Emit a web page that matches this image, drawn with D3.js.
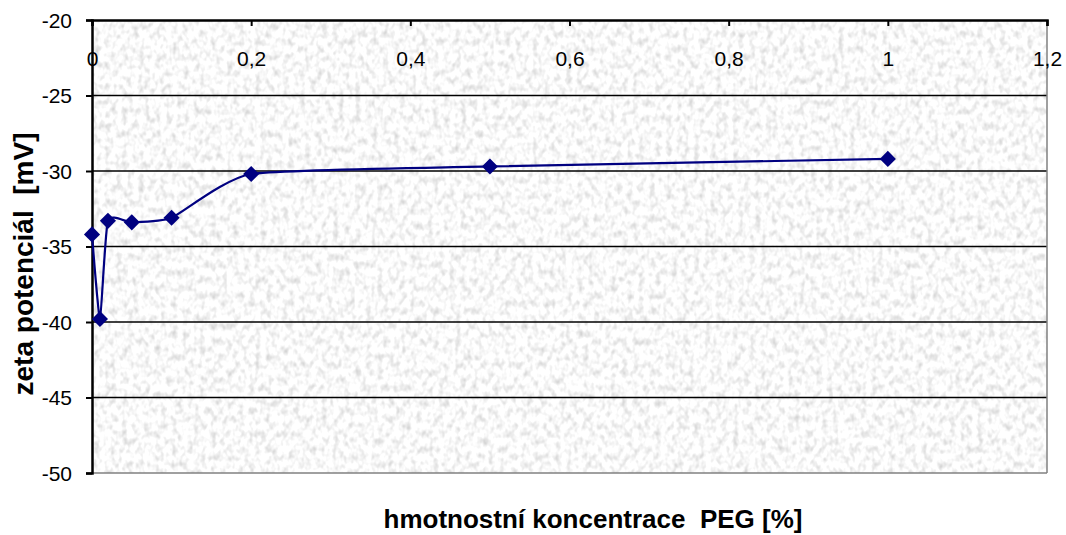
<!DOCTYPE html>
<html>
<head>
<meta charset="utf-8">
<script src="https://cdn.jsdelivr.net/npm/d3@7"></script>
<style>
  body { margin: 0; background: #fff; }
  svg text { font-family: "Liberation Sans", Arial, sans-serif; fill: #000; }
</style>
</head>
<body>
<div id="chart"></div>
<script>
// data
let concPEG = [0, 0.01, 0.02, 0.05, 0.1, 0.2, 0.5, 1];
let zeta = [-34.2, -39.8, -33.3, -33.4, -33.1, -30.2, -29.7, -29.2];
let xTicks = [0, 0.2, 0.4, 0.6, 0.8, 1, 1.2];
let yTicks = [-20, -25, -30, -35, -40, -45, -50];

let width = 1066, height = 535;
let plotL = 92, plotR = 1047, plotT = 20, plotB = 473;
let navy = '#000080';

let svg = d3.select('#chart').append('svg')
    .attr('width', width)
    .attr('height', height);

// granite-like background texture
let defs = svg.append('defs');
let filt = defs.append('filter').attr('id', 'granite')
    .attr('x', 0).attr('y', 0).attr('width', '100%').attr('height', '100%')
    .attr('color-interpolation-filters', 'sRGB');
filt.append('feTurbulence')
    .attr('type', 'fractalNoise')
    .attr('baseFrequency', '0.18 0.13')
    .attr('numOctaves', 2)
    .attr('seed', 11)
    .attr('result', 'noise');
filt.append('feColorMatrix')
    .attr('in', 'noise')
    .attr('type', 'matrix')
    .attr('values', '0.36 0 0 0 0.8  0.36 0 0 0 0.8  0.36 0 0 0 0.8  0 0 0 0 1');

let x = d3.scaleLinear().domain([0, 1.2]).range([plotL, plotR]);
let y = d3.scaleLinear().domain([-50, -20]).range([plotB, plotT]);

svg.append('rect')
    .attr('x', plotL).attr('y', plotT)
    .attr('width', plotR - plotL).attr('height', plotB - plotT)
    .attr('fill', '#e8e8e8')
    .attr('filter', 'url(#granite)');

// gridlines
svg.append('g').selectAll('line')
    .data(yTicks.filter(d => d > -50 && d < -20))
    .enter().append('line')
    .attr('x1', plotL).attr('x2', plotR)
    .attr('y1', d => y(d)).attr('y2', d => y(d))
    .attr('stroke', '#000').attr('stroke-width', 1.6);

// right + bottom frame (gray)
svg.append('line')
    .attr('x1', plotR).attr('x2', plotR).attr('y1', plotT).attr('y2', plotB)
    .attr('stroke', '#808080').attr('stroke-width', 1.5);
svg.append('line')
    .attr('x1', plotL).attr('x2', plotR).attr('y1', plotB).attr('y2', plotB)
    .attr('stroke', '#808080').attr('stroke-width', 1.5);

// y axis
let yAxis = d3.axisLeft(y).tickValues(yTicks).tickSize(6).tickPadding(14)
    .tickFormat(d => d3.format('d')(d).replace('−', '-'));
let gy = svg.append('g').attr('transform', 'translate(' + plotL + ',0)').call(yAxis);
gy.select('.domain').attr('stroke', '#000').attr('stroke-width', 2.5);
gy.selectAll('.tick line').attr('stroke', '#000').attr('stroke-width', 2);
gy.selectAll('.tick text').attr('font-size', 21).attr('dy', '0.35em');

// x axis on top, ticks pointing into the plot
let xAxis = d3.axisTop(x).tickValues(xTicks).tickSize(-6)
    .tickFormat(d => String(d).replace('.', ','));
let gx = svg.append('g').attr('transform', 'translate(0,' + plotT + ')').call(xAxis);
gx.select('.domain').attr('stroke', '#000').attr('stroke-width', 2.5);
gx.selectAll('.tick line').attr('stroke', '#000').attr('stroke-width', 2);
gx.selectAll('.tick text')
    .attr('font-size', 21)
    .attr('y', 46)
    .attr('dy', '0')
    .attr('text-anchor', 'middle');

// the series
let pts = concPEG.map((c, i) => [c, zeta[i]]);
let line = d3.line()
    .x(d => x(d[0]))
    .y(d => y(d[1]))
    .curve(d3.curveCardinal.tension(0.5));

svg.append('path')
    .datum(pts)
    .attr('d', line)
    .attr('fill', 'none')
    .attr('stroke', navy)
    .attr('stroke-width', 2.2);

svg.append('g').selectAll('path')
    .data(pts)
    .enter().append('path')
    .attr('d', d3.symbol().type(d3.symbolSquare).size(130))
    .attr('transform', d => 'translate(' + x(d[0]) + ',' + y(d[1]) + ') rotate(45)')
    .attr('fill', navy);

// axis titles
svg.append('text')
    .attr('x', 593).attr('y', 528)
    .attr('text-anchor', 'middle')
    .attr('font-size', 26)
    .attr('font-weight', 'bold')
    .style('white-space', 'pre')
    .text('hmotnostní koncentrace  PEG [%]');

svg.append('text')
    .attr('transform', 'translate(33,264) rotate(-90)')
    .attr('text-anchor', 'middle')
    .attr('font-size', 28)
    .attr('font-weight', 'bold')
    .style('white-space', 'pre')
    .text('zeta potenciál  [mV]');
</script>
</body>
</html>
